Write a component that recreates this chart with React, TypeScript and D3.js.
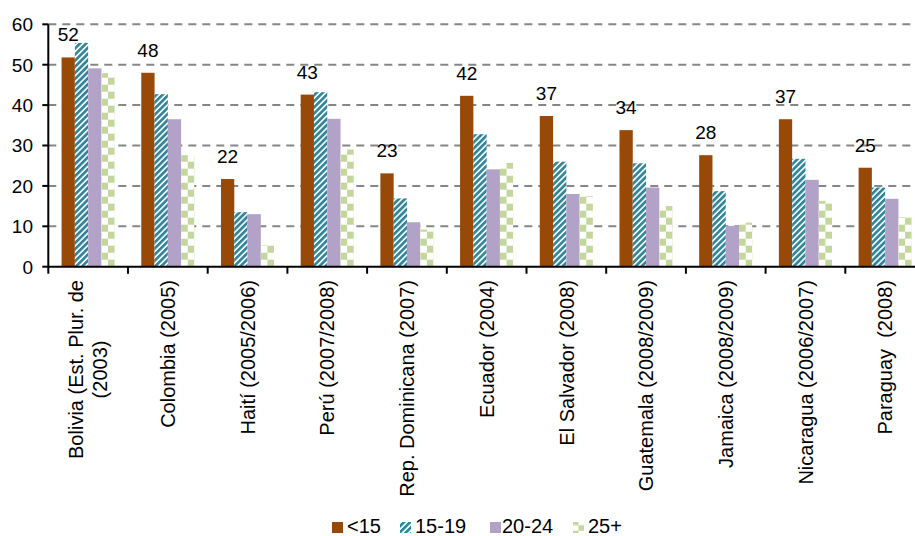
import React, { useRef, useEffect } from "react";
import * as d3 from "d3";

// categories (country + survey year); "\n" marks a line break in the axis label
const categories = [
  "Bolivia (Est. Plur. de\n(2003)",
  "Colombia (2005)",
  "Haití (2005/2006)",
  "Perú (2007/2008)",
  "Rep. Dominicana (2007)",
  "Ecuador (2004)",
  "El Salvador (2008)",
  "Guatemala (2008/2009)",
  "Jamaica (2008/2009)",
  "Nicaragua (2006/2007)",
  "Paraguay  (2008)",
];

const seriesNames = ["<15", "15-19", "20-24", "25+"];

const under15 = [51.8, 48.0, 21.7, 42.6, 23.1, 42.3, 37.3, 33.8, 27.6, 36.5, 24.5];
const age15to19 = [55.4, 42.7, 13.5, 43.2, 16.9, 32.8, 26.0, 25.6, 18.7, 26.7, 19.6];
const age20to24 = [49.1, 36.5, 13.0, 36.6, 11.0, 24.1, 18.0, 19.6, 10.1, 21.5, 16.8];
const age25plus = [47.9, 27.6, 5.3, 29.0, 9.2, 25.7, 17.5, 15.0, 10.9, 16.3, 12.3];

const yTicks = [0, 10, 20, 30, 40, 50, 60];

const App = () => {
  const svgRef = useRef<SVGSVGElement>(null);

  useEffect(() => {
    const svg = d3.select(svgRef.current);
    svg.selectAll("*").remove();

    const font = "'Liberation Sans', Arial, sans-serif";
    const left = 48.3;
    const right = 925; // plot runs past the picture edge, as in the original
    const top = 24.3;
    const bottom = 266.7;

    const values = [under15, age15to19, age20to24, age25plus];

    const x0 = d3.scaleBand().domain(categories).range([left, right]);
    const bw = x0.bandwidth();
    const x1 = d3.scaleBand().domain(seriesNames).range([bw / 6, (bw * 5) / 6]);
    const y = d3.scaleLinear().domain([0, 60]).range([bottom, top]);

    const colors = { brown: "#984807", teal: "#31859C", lilac: "#B3A2C7", green: "#C3D69B" };

    const defs = svg.append("defs");
    const stripes = defs
      .append("pattern")
      .attr("id", "stripes")
      .attr("patternUnits", "userSpaceOnUse")
      .attr("width", 4.3)
      .attr("height", 4.3)
      .attr("patternTransform", "rotate(45)");
    stripes.append("rect").attr("width", 4.3).attr("height", 4.3).attr("fill", "#fff");
    stripes.append("rect").attr("width", 2.7).attr("height", 4.3).attr("fill", colors.teal);

    // checker pattern aligned to a given x
    const checker = (id, x0pos, cw, ch) => {
      const p = defs
        .append("pattern")
        .attr("id", id)
        .attr("patternUnits", "userSpaceOnUse")
        .attr("x", x0pos)
        .attr("y", bottom)
        .attr("width", cw * 2)
        .attr("height", ch * 2);
      p.append("rect").attr("width", cw * 2).attr("height", ch * 2).attr("fill", "#fff");
      p.append("rect").attr("width", cw).attr("height", ch).attr("fill", colors.green);
      p.append("rect").attr("x", cw).attr("y", ch).attr("width", cw).attr("height", ch).attr("fill", colors.green);
    };

    const fillFor = (s, i) => {
      if (s === 0) return colors.brown;
      if (s === 1) return "url(#stripes)";
      if (s === 2) return colors.lilac;
      return `url(#checker-${i})`;
    };

    // gridlines
    svg
      .append("g")
      .selectAll("line")
      .data(yTicks.filter((t) => t > 0))
      .join("line")
      .attr("x1", left)
      .attr("x2", right)
      .attr("y1", (d) => y(d))
      .attr("y2", (d) => y(d))
      .attr("stroke", "#868686")
      .attr("stroke-width", 2)
      .attr("stroke-dasharray", "8,6");

    // bars
    const chart = svg.append("g");
    categories.forEach((cat, i) => {
      const bx = x0(cat) + x1("25+");
      checker(`checker-${i}`, bx, x1.bandwidth() / 2, 7);
      seriesNames.forEach((name, s) => {
        const v = values[s][i];
        chart
          .append("rect")
          .attr("x", x0(cat) + x1(name))
          .attr("y", y(v))
          .attr("width", x1.bandwidth())
          .attr("height", y(0) - y(v))
          .attr("fill", fillFor(s, i));
      });
    });

    // data labels for <15
    svg
      .append("g")
      .selectAll("text")
      .data(categories)
      .join("text")
      .attr("x", (d) => x0(d) + x1("<15") + x1.bandwidth() / 2)
      .attr("y", (d, i) => y(under15[i]) - 16)
      .attr("text-anchor", "middle")
      .attr("font-family", font)
      .attr("font-size", 19)
      .attr("fill", "#000")
      .text((d, i) => Math.round(under15[i]));

    // y axis
    const axis = svg.append("g").attr("stroke", "#000").attr("stroke-width", 2);
    axis.append("line").attr("x1", left).attr("x2", left).attr("y1", top).attr("y2", bottom + 1);
    yTicks.forEach((t) => {
      axis.append("line").attr("x1", left - 6).attr("x2", left).attr("y1", y(t)).attr("y2", y(t));
    });
    svg
      .append("g")
      .selectAll("text")
      .data(yTicks)
      .join("text")
      .attr("x", 33)
      .attr("y", (d) => y(d))
      .attr("dy", "0.36em")
      .attr("text-anchor", "end")
      .attr("font-family", font)
      .attr("font-size", 19)
      .text((d) => d);

    // x axis
    axis.append("line").attr("x1", left - 1).attr("x2", right).attr("y1", bottom).attr("y2", bottom);
    d3.range(categories.length + 1).forEach((k) => {
      const tx = left + k * bw;
      axis.append("line").attr("x1", tx).attr("x2", tx).attr("y1", bottom).attr("y2", bottom + 7);
    });

    // category labels, rotated
    categories.forEach((cat) => {
      const lines = cat.split("\n");
      const g = svg
        .append("g")
        .attr("transform", `translate(${x0(cat) + bw / 2},280) rotate(-90)`);
      const texts = lines.map((ln, k) =>
        g
          .append("text")
          .attr("y", (k - (lines.length - 1) / 2) * 24)
          .attr("dy", "0.36em")
          .attr("text-anchor", "middle")
          .attr("font-family", font)
          .attr("font-size", 20)
          .style("white-space", "pre")
          .text(ln)
      );
      const maxLen = d3.max(texts, (t) => (t.node() as SVGTextElement).getComputedTextLength()) || 0;
      texts.forEach((t) => t.attr("x", -maxLen / 2));
    });

    // legend
    const legendSwatchX = [332, 400, 490, 573];
    const legendTextX = [347, 415, 502, 588];
    checker("checker-legend", legendSwatchX[3], 5.5, 5.5);
    const legend = svg.append("g");
    seriesNames.forEach((name, s) => {
      legend
        .append("rect")
        .attr("x", legendSwatchX[s])
        .attr("y", 522)
        .attr("width", 11)
        .attr("height", 11)
        .attr("fill", s === 3 ? "url(#checker-legend)" : fillFor(s, 0));
      legend
        .append("text")
        .attr("x", legendTextX[s])
        .attr("y", 533)
        .attr("font-family", font)
        .attr("font-size", 20)
        .text(name);
    });
  }, []);

  return (
    <svg
      ref={svgRef}
      width={915}
      height={536}
      style={{ position: "absolute", left: 0, top: 0, background: "#fff" }}
    ></svg>
  );
};

export default App;
